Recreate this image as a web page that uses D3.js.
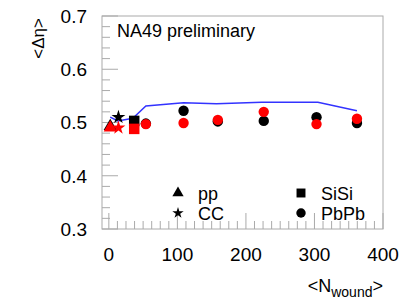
<!DOCTYPE html>
<html>
<head>
<meta charset="utf-8">
<script src="https://cdn.jsdelivr.net/npm/d3@7"></script>
<style>
  body { margin: 0; background: #fff; }
  text { font-family: "Liberation Sans", Arial, Helvetica, sans-serif; }
</style>
</head>
<body>
<div id="chart"></div>
<script>
// values
const systems = ["pp", "CC", "SiSi", "PbPb"];
const ppX = [2], ccX = [14], sisiX = [37];
const pbpbX = [54, 109, 159, 226, 303, 362];
const blackPP = [0.493], blackCC = [0.510], blackSiSi = [0.503];
const blackPbPb = [0.498, 0.522, 0.502, 0.503, 0.510, 0.499];
const redPP = [0.490], redCC = [0.490], redSiSi = [0.488];
const redPbPb = [0.497, 0.499, 0.505, 0.520, 0.497, 0.507];
const modelX = [2, 13, 35, 54, 109, 157, 223, 305, 362];
const modelY = [0.510, 0.503, 0.508, 0.531, 0.537, 0.535, 0.538, 0.538, 0.522];
const xTicks = [0, 100, 200, 300, 400];
const yTicks = [0.3, 0.4, 0.5, 0.6, 0.7];

const W = 409, H = 307;
const margin = { top: 16, right: 26, bottom: 78, left: 102 };
const w = W - margin.left - margin.right;
const h = H - margin.top - margin.bottom;

const svg = d3.select("#chart").append("svg")
    .attr("width", W).attr("height", H);
const g = svg.append("g")
    .attr("transform", `translate(${margin.left},${margin.top})`);

const x = d3.scaleLinear().domain([-10, 400]).range([0, w]);
const y = d3.scaleLinear().domain([0.3, 0.7]).range([h, 0]);

const frameColor = "#aaa";

// frame
g.append("rect")
    .attr("width", w).attr("height", h)
    .attr("fill", "none").attr("stroke", frameColor).attr("stroke-width", 1);

// y ticks (minor every 0.02, major every 0.1)
const yMinor = d3.range(0.3, 0.7001, 0.02);
g.selectAll(".ytick").data(yMinor).enter().append("line")
    .attr("x1", 0)
    .attr("x2", d => (Math.abs(d * 10 - Math.round(d * 10)) < 1e-6) ? 16 : 8)
    .attr("y1", d => y(d)).attr("y2", d => y(d))
    .attr("stroke", frameColor);

// x ticks
const xMinor = d3.range(0, 400.01, 12.5);
g.selectAll(".xtick").data(xMinor).enter().append("line")
    .attr("y1", h)
    .attr("y2", d => (d % 100 === 0) ? h - 16 : h - 8)
    .attr("x1", d => x(d)).attr("x2", d => x(d))
    .attr("stroke", frameColor);

// tick labels
g.selectAll(".ylab").data(yTicks).enter().append("text")
    .attr("x", -15).attr("y", d => y(d))
    .attr("dy", "0.36em")
    .attr("text-anchor", "end")
    .attr("font-size", 19)
    .text(d => d.toFixed(1));

g.selectAll(".xlab").data(xTicks).enter().append("text")
    .attr("x", d => x(d)).attr("y", h + 32)
    .attr("text-anchor", "middle")
    .attr("font-size", 19)
    .text(d => d);

// axis titles
svg.append("text")
    .attr("transform", `translate(44,${margin.top + 2}) rotate(-90)`)
    .attr("text-anchor", "end")
    .attr("font-size", 17)
    .text("<Δη>");

const xt = svg.append("text")
    .attr("x", margin.left + w).attr("y", 292)
    .attr("text-anchor", "end")
    .attr("font-size", 18);
xt.append("tspan").text("<N");
xt.append("tspan").attr("font-size", 14).attr("dy", 5).text("wound");
xt.append("tspan").attr("dy", -5).text(">");

// label
g.append("text")
    .attr("x", 15).attr("y", 21)
    .attr("font-size", 18)
    .text("NA49 preliminary");

// model line
const line = d3.line().x((d, i) => x(modelX[i])).y(d => y(d));
g.append("path")
    .datum(modelY)
    .attr("d", line)
    .attr("fill", "none")
    .attr("stroke", "#3333ff")
    .attr("stroke-width", 1.5);

const shapes = {
    pp: d3.symbol().type(d3.symbolTriangle).size(75),
    CC: d3.symbol().type(d3.symbolStar).size(60),
    SiSi: d3.symbol().type(d3.symbolSquare).size(110),
    PbPb: d3.symbol().type(d3.symbolCircle).size(85)
};

function drawSet(xs, ys, sys, color) {
    g.selectAll(null).data(ys).enter().append("path")
        .attr("d", shapes[sys]())
        .attr("transform", (d, i) => `translate(${x(xs[i])},${y(d)})`)
        .attr("fill", color);
}

drawSet(ppX, blackPP, "pp", "#000");
drawSet(ccX, blackCC, "CC", "#000");
drawSet(sisiX, blackSiSi, "SiSi", "#000");
drawSet(pbpbX, blackPbPb, "PbPb", "#000");
drawSet(ppX, redPP, "pp", "#ff0000");
drawSet(ccX, redCC, "CC", "#ff0000");
drawSet(sisiX, redSiSi, "SiSi", "#ff0000");
drawSet(pbpbX, redPbPb, "PbPb", "#ff0000");

// legend
const legendPos = [
    { sys: "pp", mx: 178, my: 193 },
    { sys: "CC", mx: 178, my: 213 },
    { sys: "SiSi", mx: 301, my: 193 },
    { sys: "PbPb", mx: 301, my: 213 }
];
const legendSizes = { pp: 55, CC: 40, SiSi: 80, PbPb: 70 };
legendPos.forEach(p => {
    svg.append("path")
        .attr("d", d3.symbol().type(shapes[p.sys].type()).size(legendSizes[p.sys])())
        .attr("transform", `translate(${p.mx},${p.my})`)
        .attr("fill", "#000");
    svg.append("text")
        .attr("x", p.mx + 20).attr("y", p.my + 7)
        .attr("font-size", 18)
        .text(p.sys);
});
</script>
</body>
</html>
